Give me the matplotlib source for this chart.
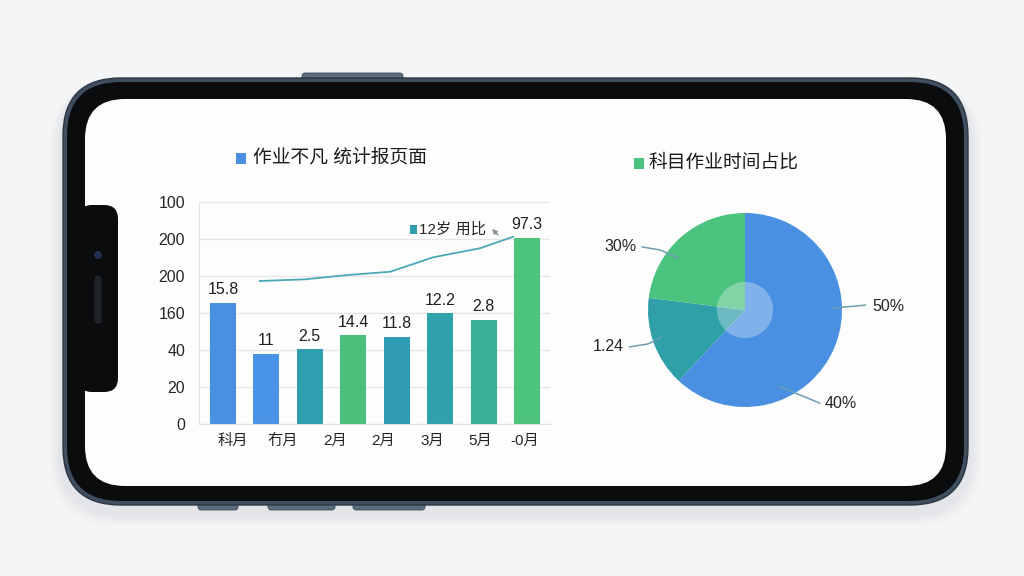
import numpy as np
import matplotlib
matplotlib.use('Agg')
import matplotlib.pyplot as plt
from matplotlib.patches import FancyBboxPatch, Rectangle, Circle

plt.rcParams['font.family'] = ['Liberation Sans', 'Noto Sans CJK SC', 'DejaVu Sans']

# ---- bar chart data ----
bar_values = [65.6, 38.0, 40.5, 48.0, 47.0, 59.8, 56.2, 100.7]
bar_labels = ['15.8', '11', '2.5', '14.4', '11.8', '12.2', '2.8', '97.3']
bar_colors = ['#4a90e2', '#4a94e8', '#2f9fb0', '#4bc07c', '#2f9cb4', '#2fa2ac', '#3ab096', '#4cc47c']
month_labels = ['科月', '冇月', '2月', '2月', '3月', '5月', '-0月']
month_pos = [0.23, 1.38, 2.58, 3.69, 4.82, 5.92, 6.96]
ytick_labels = ['0', '20', '40', '160', '200', '200', '100']
trend_x = [0.85, 1.89, 2.86, 3.85, 4.84, 5.92, 6.68]
trend_y = [77.3, 78.2, 80.5, 82.3, 90.1, 95.0, 101.2]

# ---- pie data ----
pie_values = [62, 15, 23]
pie_colors = ['#4a90e2', '#2f9fa8', '#4cc27f']
pie_texts = ['50%', '40%', '1.24', '30%']

W, H = 1024, 576
fig = plt.figure(figsize=(W / 100, H / 100), dpi=100)
fig.patch.set_facecolor('#f4f5f7')

# background layer in pixel coords: the phone
bg = fig.add_axes([0, 0, 1, 1])
bg.set_xlim(0, W)
bg.set_ylim(H, 0)
bg.axis('off')


def rbox(x0, y0, x1, y1, r, **kw):
    p = FancyBboxPatch((x0, y0), x1 - x0, y1 - y0,
                       boxstyle='round,pad=0,rounding_size=%g' % r, **kw)
    bg.add_patch(p)
    return p


# soft shadow
for i, a in enumerate([0.025, 0.03, 0.035, 0.04]):
    g = 14 - i * 3
    rbox(63 - g, 84 - g * 0.3, 968 + g, 512 + g, 58 + g, fc='#7a8290', ec='none', alpha=a)

# side buttons
for x0, x1 in [(198, 238), (268, 335), (353, 425)]:
    rbox(x0, 500, x1, 510, 3, fc='#5b6c7b', ec='#3c4a57', lw=0.6)
rbox(302, 73, 403, 82, 3, fc='#5b6c7b', ec='#3c4a57', lw=0.6)

# frame, bezel, screen
rbox(63, 78, 968, 505, 58, fc='#3e4f60', ec='#2b3641', lw=1)
rbox(67, 82, 964, 501, 54, fc='#0b0c0e', ec='none')
rbox(85, 99, 946, 486, 40, fc='#fdfdfd', ec='none')
# notch
rbox(78, 205, 118, 392, 14, fc='#0b0c0e', ec='none')
bg.add_patch(Circle((98, 255), 3.2, fc='#1d2c55', ec='#30405e', lw=0.6))
rbox(95, 276, 101, 323, 3, fc='#1f2226', ec='#2c3036', lw=0.5)

# titles
bg.add_patch(Rectangle((236, 153), 10, 11, fc='#4a90e2', ec='none'))
bg.text(253, 158, '作业不凡 统计报页面', fontsize=13.5, va='center', ha='left', color='#1a1a1a')
bg.add_patch(Rectangle((634, 158), 10, 11, fc='#4cc27f', ec='none'))
bg.text(648, 163, '科目作业时间占比', fontsize=13.5, va='center', ha='left', color='#1a1a1a')

# little cursor near the last point
bg.annotate('', xy=(490, 227), xytext=(500, 237),
            arrowprops=dict(arrowstyle='-|>', color='#8a8f96', lw=1.0, mutation_scale=7))

# ---- bar chart ----
ax = fig.add_axes([199 / W, 1 - 424 / H, (550 - 199) / W, (424 - 202) / H])
ax.set_facecolor('none')
x = np.arange(len(bar_values))
bars = ax.bar(x, bar_values, width=0.6, color=bar_colors, zorder=2)
for b, lab in zip(bars, bar_labels):
    ax.annotate(lab, (b.get_x() + b.get_width() / 2, b.get_height()),
                xytext=(0, 4), textcoords='offset points', ha='center', va='bottom',
                fontsize=11.5, color='#1f1f1f')
ax.plot(trend_x, trend_y, color='#4aa8b8', lw=1.3, zorder=3)
ax.set_xlim(-0.55, 7.53)
ax.set_ylim(0, 120)
ax.set_yticks(np.arange(0, 121, 20))
ax.set_yticklabels(ytick_labels, fontsize=11.5, color='#262626')
ax.set_xticks(month_pos)
ax.set_xticklabels(month_labels, fontsize=11, color='#262626')
ax.tick_params(length=0)
ax.tick_params(axis='y', pad=10)
ax.tick_params(axis='x', pad=7)
ax.grid(axis='y', color='#e6e6e6', lw=1, zorder=0)
for s in ['top', 'right']:
    ax.spines[s].set_visible(False)
for s in ['left', 'bottom']:
    ax.spines[s].set_color('#e3e3e3')

# small legend inside the bar chart
ax.add_patch(Rectangle((0.60, 0.855), 0.02, 0.04, transform=ax.transAxes,
                       fc='#2f9fb0', ec='none', clip_on=False))
ax.text(0.627, 0.875, '12岁 用比', transform=ax.transAxes, fontsize=11,
        va='center', ha='left', color='#262626')

# ---- pie chart ----
R = 97
pax = fig.add_axes([(745 - R) / W, 1 - (310 + R) / H, 2 * R / W, 2 * R / H])
pax.pie(pie_values, colors=pie_colors, startangle=90, counterclock=False,
        radius=1, wedgeprops=dict(linewidth=0))
pax.set_xlim(-1, 1)
pax.set_ylim(-1, 1)
pax.add_patch(Circle((0, 0), 0.29, fc='white', ec='none', alpha=0.3))

lead = '#6b9fb2'
pax.plot([0.91, 1.24], [0.02, 0.05], color=lead, lw=1.1, clip_on=False)
pax.text(1.31, 0.04, pie_texts[0], fontsize=11.5, ha='left', va='center', color='#262626')
pax.plot([0.36, 0.77], [-0.79, -0.96], color=lead, lw=1.1, clip_on=False)
pax.text(0.82, -0.96, pie_texts[1], fontsize=11.5, ha='left', va='center', color='#262626')
pax.plot([-0.86, -1.0, -1.19], [-0.28, -0.35, -0.38], color=lead, lw=1.1, clip_on=False)
pax.text(-1.25, -0.38, pie_texts[2], fontsize=11.5, ha='right', va='center', color='#262626')
pax.plot([-0.69, -0.88, -1.06], [0.54, 0.62, 0.65], color=lead, lw=1.1, clip_on=False)
pax.text(-1.12, 0.65, pie_texts[3], fontsize=11.5, ha='right', va='center', color='#262626')

fig.savefig('out.png', dpi=100, facecolor=fig.get_facecolor())
